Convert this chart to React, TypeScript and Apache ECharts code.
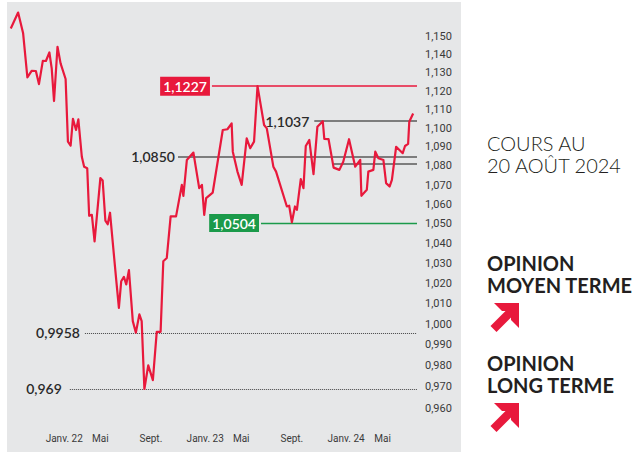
import React, { useEffect, useRef } from 'react';
import * as echarts from 'echarts';

// EUR/USD weekly closes
const DATES = [
  '2021-10-13', '2021-11-01', '2021-11-14', '2021-11-25', '2021-12-06', '2021-12-17', '2021-12-25',
  '2022-01-04', '2022-01-12', '2022-01-21', '2022-01-27', '2022-02-02', '2022-02-11', '2022-02-19',
  '2022-03-04', '2022-03-10', '2022-03-17', '2022-03-23', '2022-03-31', '2022-04-06', '2022-04-15',
  '2022-04-21', '2022-04-29', '2022-05-04', '2022-05-11', '2022-05-18', '2022-06-02', '2022-06-08',
  '2022-06-15', '2022-06-21', '2022-06-27', '2022-07-13', '2022-07-20', '2022-07-26', '2022-08-02',
  '2022-08-08', '2022-08-15', '2022-08-25', '2022-09-02', '2022-09-11', '2022-09-17', '2022-09-24',
  '2022-10-04', '2022-10-16', '2022-10-26', '2022-11-05', '2022-11-12', '2022-11-21', '2022-12-01',
  '2022-12-15', '2022-12-30', '2023-01-03', '2023-01-12', '2023-01-29', '2023-02-13', '2023-02-20',
  '2023-02-26', '2023-03-03', '2023-03-20', '2023-04-15', '2023-04-27', '2023-05-08', '2023-05-11',
  '2023-05-23', '2023-06-03', '2023-06-16', '2023-06-25', '2023-07-05', '2023-07-14', '2023-07-31',
  '2023-08-07', '2023-08-24', '2023-08-31', '2023-09-28', '2023-10-04', '2023-10-11', '2023-10-19',
  '2023-10-24', '2023-11-03', '2023-11-10', '2023-11-16', '2023-11-25', '2023-12-06', '2023-12-16',
  '2023-12-30', '2024-01-03', '2024-01-14', '2024-01-27', '2024-02-11', '2024-02-21', '2024-03-07',
  '2024-03-23', '2024-04-05', '2024-04-08', '2024-04-22', '2024-04-26', '2024-05-09', '2024-05-14',
  '2024-05-22', '2024-06-04', '2024-06-11', '2024-06-20', '2024-06-26', '2024-07-07', '2024-07-24',
  '2024-07-30', '2024-08-07', '2024-08-10', '2024-08-20',
];

const VALUES = [
  1.1546, 1.1636, 1.1519, 1.1275, 1.1311, 1.1310, 1.1238,
  1.1366, 1.1365, 1.1412, 1.1324, 1.1146, 1.1444, 1.1352,
  1.1266, 1.0928, 1.0907, 1.1050, 1.0990, 1.1047, 1.0848,
  1.0796, 1.0788, 1.0541, 1.0546, 1.0411, 1.0736, 1.0723,
  1.0516, 1.0498, 1.0557, 1.0219, 1.0080, 1.0211, 1.0233,
  1.0195, 1.0266, 1.0015, 0.9959, 1.0048, 1.0015, 0.9690,
  0.9802, 0.9732, 0.9963, 0.9963, 1.0311, 1.0327, 1.0538,
  1.0538, 1.0701, 1.0644, 1.0831, 1.0870, 1.0684, 1.0701,
  1.0546, 1.0632, 1.0661, 1.0990, 1.0994, 1.1025, 1.0875,
  1.0770, 1.0701, 1.0946, 1.0893, 1.0928, 1.1227, 1.1017,
  1.0999, 1.0796, 1.0770, 1.0589, 1.0593, 1.0508, 1.0589,
  1.0572, 1.0731, 1.0684, 1.0905, 1.0937, 1.0757, 1.1007,
  1.1037, 1.0942, 1.0941, 1.0791, 1.0779, 1.0822, 1.0941,
  1.0796, 1.0831, 1.0644, 1.0675, 1.0770, 1.0779, 1.0875,
  1.0840, 1.0831, 1.0710, 1.0692, 1.0727, 1.0901, 1.0867,
  1.0905, 1.0916, 1.1034, 1.1079,
];

const X_MIN = '2021-10-11';
const X_MAX = '2024-08-30';
const X_TICK_DATES = ['2022-01-01', '2022-05-01', '2022-09-01', '2023-01-01', '2023-05-01', '2023-09-01', '2024-01-01', '2024-05-01'];
const X_TICK_LABELS = ['Janv. 22', 'Mai', 'Sept.', 'Janv. 23', 'Mai', 'Sept.', 'Janv. 24', 'Mai'];

const Y_MIN = 0.9545;
const Y_MAX = 1.169;
const Y_TICKS = [0.96, 0.97, 0.98, 0.99, 1.0, 1.01, 1.02, 1.03, 1.04, 1.05, 1.06, 1.07, 1.08, 1.09, 1.1, 1.11, 1.12, 1.13, 1.14, 1.15];

// Support / resistance levels
const LEVEL_VALUES = [1.1227, 1.1037, 1.085, 1.0813, 1.0504, 0.9958, 0.969];
const LEVEL_LABELS = ['1,1227', '1,1037', '1,0850', '', '1,0504', '0,9958', '0,969'];
const LEVEL_FROM = ['2023-03-18', '2023-12-08', '2022-12-20', '2024-01-27', '2023-07-23', '2022-04-23', '2022-03-15'];
const LEVEL_KIND = ['red', 'gray', 'gray', 'gray', 'green', 'dot', 'dot'];

const RED = '#e8193c';
const GREEN = '#1b9a4a';

const ts = (s: string) => {
  const [y, m, d] = s.split('-').map(Number);
  return Date.UTC(y, m - 1, d);
};

const arrowChevron = [[4, 0], [29, 0], [29, 25], [21, 17], [21, 8], [12, 8]];
const arrowShaft = [[0.5, 23], [6.5, 29], [25, 10.5], [19, 4.5]];

export default function App() {
  const ref = useRef<HTMLDivElement>(null);

  useEffect(() => {
    if (!ref.current) return;
    const chart = echarts.init(ref.current, undefined, { renderer: 'svg' });
    const xTicks = X_TICK_DATES.map(ts);
    const data = DATES.map((d, i) => [ts(d), Math.log(VALUES[i])]);

    const labelFont = { fontFamily: 'Lato', fontSize: 14, fontWeight: 600 };
    const distances = [2, 5, 3, 0, 2, 5, 8];

    const markData = LEVEL_VALUES.map((v, i) => {
      const kind = LEVEL_KIND[i];
      let lineStyle: any;
      let label: any;
      if (kind === 'red') {
        lineStyle = { color: RED, width: 1.6, type: 'solid' };
        label = { color: '#ffffff', backgroundColor: RED, padding: [1, 3, 1, 3], lineHeight: 17 };
      } else if (kind === 'green') {
        lineStyle = { color: GREEN, width: 1.3, type: 'solid' };
        label = { color: '#ffffff', backgroundColor: GREEN, padding: [1, 3, 0, 3], lineHeight: 17 };
      } else if (kind === 'gray') {
        lineStyle = { color: '#5a5a5a', width: 1.6, type: 'solid' };
        label = { color: '#2a2a2a' };
      } else {
        lineStyle = { color: '#444444', width: 1, type: [1, 1] };
        label = { color: '#2a2a2a' };
      }
      label = {
        ...labelFont,
        ...label,
        show: LEVEL_LABELS[i] !== '',
        position: 'start',
        distance: distances[i],
        formatter: LEVEL_LABELS[i],
      };
      return [
        { coord: [ts(LEVEL_FROM[i]), Math.log(v)], lineStyle, label },
        { coord: [ts(X_MAX), Math.log(v)], lineStyle, label },
      ];
    });

    const textStyle = (text: string, x: number, y: number, weight: any) => ({
      type: 'text',
      x,
      y,
      silent: true,
      style: {
        text,
        fill: '#231f20',
        fontFamily: 'Lato',
        fontSize: 20,
        fontWeight: weight,
        verticalAlign: 'middle',
        align: 'left',
      },
    });

    const arrow = (x: number, y: number) => ({
      type: 'group',
      x,
      y,
      silent: true,
      children: [
        { type: 'polygon', shape: { points: arrowChevron }, style: { fill: RED } },
        { type: 'polygon', shape: { points: arrowShaft }, style: { fill: RED } },
      ],
    });

    chart.setOption({
      animation: false,
      backgroundColor: '#ffffff',
      grid: { left: 10, top: 3, width: 407, height: 417, containLabel: false, outerBoundsMode: 'none' },
      xAxis: {
        type: 'value',
        min: ts(X_MIN),
        max: ts(X_MAX),
        axisLine: { show: false },
        axisTick: { show: false },
        splitLine: { show: false },
        axisLabel: {
          customValues: xTicks,
          formatter: (v: number) => {
            const idx = xTicks.findIndex((t) => Math.abs(t - v) < 86400000);
            return idx >= 0 ? X_TICK_LABELS[idx] : '';
          },
          align: 'left',
          padding: [0, 0, 0, 4],
          margin: 13,
          fontSize: 10,
          fontFamily: 'Roboto',
          color: '#3a3a3a',
        },
      },
      yAxis: {
        type: 'value',
        position: 'right',
        min: Math.log(Y_MIN),
        max: Math.log(Y_MAX),
        axisLine: { show: false },
        axisTick: { show: false },
        splitLine: { show: false },
        axisLabel: {
          customValues: Y_TICKS.map((t) => Math.log(t)),
          formatter: (v: number) => Math.exp(v).toFixed(3).replace('.', ','),
          margin: 8,
          fontSize: 11,
          fontFamily: 'Roboto',
          color: '#3a3a3a',
          align: 'left',
        },
      },
      series: [
        {
          type: 'line',
          data,
          showSymbol: false,
          symbol: 'none',
          silent: true,
          z: 5,
          lineStyle: { color: RED, width: 2.2, join: 'round' },
          markLine: {
            silent: true,
            symbol: ['none', 'none'],
            animation: false,
            z: 3,
            data: markData,
          },
        },
      ],
      graphic: {
        elements: [
          {
            type: 'rect',
            z: -10,
            silent: true,
            shape: { x: 7, y: 2, width: 454, height: 450 },
            style: { fill: '#e6e7e8' },
          },
          textStyle('COURS AU', 487, 143, 300),
          textStyle('20 AOÛT 2024', 487, 165, 300),
          textStyle('OPINION', 487, 263, 'bold'),
          textStyle('MOYEN TERME', 487, 285, 'bold'),
          arrow(490, 303),
          textStyle('OPINION', 487, 363, 'bold'),
          textStyle('LONG TERME', 487, 385, 'bold'),
          arrow(490, 403),
        ],
      },
    });

    return () => chart.dispose();
  }, []);

  return <div ref={ref} style={{ position: 'absolute', left: 0, top: 0, width: 635, height: 452 }} />;
}
